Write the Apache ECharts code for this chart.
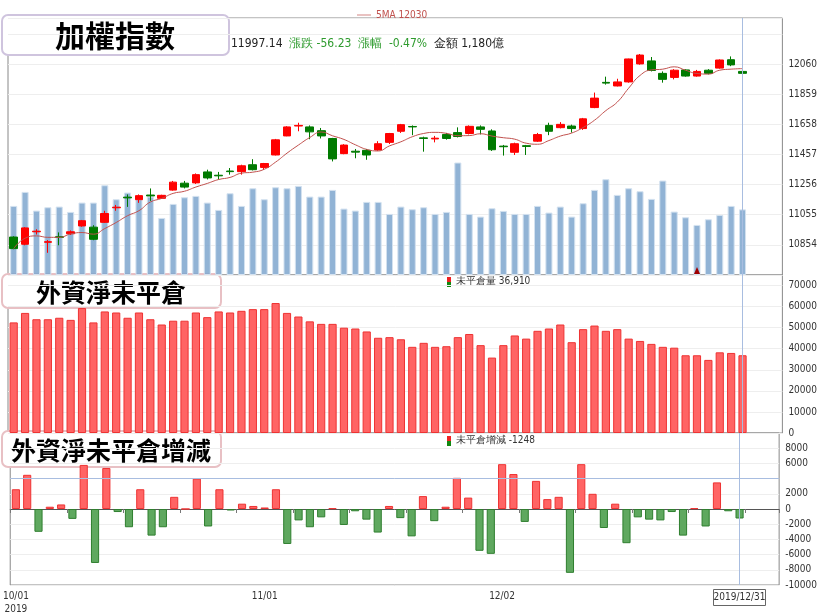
<!DOCTYPE html>
<html><head><meta charset="utf-8">
<script src="https://cdn.jsdelivr.net/npm/echarts@6/dist/echarts.min.js"></script>
<style>html,body{margin:0;padding:0;background:#fff}#c{width:820px;height:616px}</style>
</head><body><div id="c"></div>
<script>
const dates = [
 '2019/10/01','2019/10/02','2019/10/03','2019/10/04','2019/10/07','2019/10/08','2019/10/09','2019/10/11',
 '2019/10/14','2019/10/15','2019/10/16','2019/10/17','2019/10/18','2019/10/21','2019/10/22','2019/10/23','2019/10/24','2019/10/25',
 '2019/10/28','2019/10/29','2019/10/30','2019/10/31',
 '2019/11/01','2019/11/04','2019/11/05','2019/11/06','2019/11/07','2019/11/08','2019/11/11','2019/11/12','2019/11/13','2019/11/14','2019/11/15',
 '2019/11/18','2019/11/19','2019/11/20','2019/11/21','2019/11/22','2019/11/25','2019/11/26','2019/11/27','2019/11/28','2019/11/29',
 '2019/12/02','2019/12/03','2019/12/04','2019/12/05','2019/12/06','2019/12/09','2019/12/10','2019/12/11','2019/12/12','2019/12/13',
 '2019/12/16','2019/12/17','2019/12/18','2019/12/19','2019/12/20','2019/12/23','2019/12/24','2019/12/25','2019/12/26','2019/12/27',
 '2019/12/30','2019/12/31'];
// [open, close, low, high]
const ohlc = [
 [10906,10829,10825,10911],[10858,10967,10851,10972],[10941,10945,10923,10958],[10871,10875,10801,10886],
 [10908,10904,10851,10937],[10928,10941,10920,10950],[10980,11015,10975,11020],[10972,10891,10885,10985],
 [11004,11063,11000,11081],[11101,11105,11081,11120],[11172,11167,11107,11190],[11155,11182,11134,11190],
 [11186,11180,11147,11230],[11164,11184,11160,11188],[11219,11272,11215,11280],[11265,11239,11230,11280],
 [11267,11322,11260,11330],[11340,11300,11290,11355],[11318,11314,11289,11340],[11346,11342,11322,11366],
 [11342,11381,11322,11388],[11388,11355,11350,11425],[11370,11396,11353,11400],[11453,11554,11450,11560],
 [11580,11640,11578,11645],[11646,11650,11611,11668],[11640,11607,11558,11650],[11615,11580,11563,11633],
 [11563,11427,11410,11567],[11462,11519,11458,11525],[11478,11472,11431,11493],[11484,11453,11421,11493],
 [11486,11528,11480,11545],[11537,11596,11526,11600],[11611,11655,11600,11660],[11643,11640,11585,11650],
 [11567,11563,11475,11575],[11560,11565,11537,11580],[11590,11563,11555,11600],[11602,11576,11570,11637],
 [11596,11644,11590,11650],[11640,11624,11590,11650],[11613,11488,11480,11624],[11512,11508,11449,11520],
 [11471,11528,11453,11535],[11515,11510,11453,11520],[11545,11589,11540,11600],[11650,11611,11585,11668],
 [11635,11657,11630,11672],[11646,11629,11602,11655],[11629,11694,11620,11700],[11769,11832,11765,11869],
 [11937,11932,11922,11975],[11913,11940,11910,11961],[11940,12093,11935,12095],[12060,12119,12055,12125.9],
 [12080,12016,12010,12106],[11997,11957,11935,12010],[11970,12018,11957,12025],[12020,11979,11975,12025],
 [11979,12010,11975,12020],[12018,11997,11990,12025],[12032,12086,12028,12090],[12088,12053.37,12045,12110],
 [12010,11997.14,11990,12018]];
const volume = [1242,1494,1158,1218,1230,1134,1302,1302,1614,1362,1482,1362,1410,1026,1278,1398,1422,1302,1170,1470,
 1242,1560,1362,1578,1560,1602,1410,1410,1530,1194,1158,1314,1314,1098,1230,1182,1218,1098,1134,2022,
 1098,1050,1200,1152,1098,1098,1242,1122,1230,1050,1290,1530,1722,1440,1560,1506,1368,1698,1140,1038,
 900,1002,1080,1242,1180];
const oi = [52500,57000,54000,54000,54700,53700,59300,52500,57700,57200,54700,57200,54000,51500,53300,53300,57200,55000,57700,57200,
 58000,58800,58800,61700,57000,55300,53000,51800,51800,50000,49600,48200,45200,45500,44500,40900,42800,40900,41200,45500,
 47000,41700,35800,41700,46300,44800,48500,49600,51500,43100,49300,51000,48500,49300,44800,43700,42300,40900,40500,36900,
 36900,34700,38300,38000,36910];
const oiChange = [2600,4500,-3000,300,600,-1300,5800,-7100,5400,-400,-2400,2600,-3500,-2400,1600,0,4000,-2300,2600,-200,
 700,400,200,2600,-4600,-1500,-2400,-1100,100,-2100,-300,-1400,-3100,400,-1200,-3600,1700,-1600,300,4100,
 1500,-5500,-5900,5900,4600,-1700,3700,1300,1600,-8400,5900,2000,-2500,700,-4500,-1100,-1400,-1500,-400,-3500,
 100,-2300,3500,-300,-1248];
const indexTicks = [10854,11055,11256,11457,11658,11859,12060];

// 5-day moving average of the closes (partial window at the start)
const closes = ohlc.map(d => d[1]);
const ma5 = closes.map((c,i) => { const s = closes.slice(Math.max(0,i-4), i+1); return +(s.reduce((a,b)=>a+b,0)/s.length).toFixed(2); });

const FONT = '"DejaVu Sans Condensed", "Liberation Sans Narrow", sans-serif';
const chart = echarts.init(document.getElementById('c'));
const lastDate = dates[dates.length-1];
const crossLine = {silent:true, symbol:'none', label:{show:false}, lineStyle:{color:'#a8bde0', type:'solid', width:1}, data:[{xAxis:lastDate}]};
const yLab = {color:'#333', fontSize:10, fontFamily:FONT, margin:6, formatter:v => String(v)};
const gridBase = {left:8, right:33, show:true, borderColor:'#888', borderWidth:1, backgroundColor:'transparent'};
const slotMax = dates.length + 2;

chart.setOption({
  animation:false,
  legend:{top:5, left:352, data:['5MA'], icon:'path://M0,5 L20,5 L20,6 L0,6 Z', itemWidth:14, itemHeight:2,
    formatter: n => n + ' 12030', textStyle:{color:'#c0504d', fontSize:10, fontFamily:FONT}},
  grid:[
    Object.assign({top:18, height:257}, gridBase),
    Object.assign({top:275, height:158}, gridBase),
    Object.assign({top:433, height:155}, gridBase)
  ],
  xAxis:[0,1,2].map(i => ({type:'category', gridIndex:i, data:dates, boundaryGap:true, max:slotMax,
    axisLine:{show:i===2, lineStyle:{color:'#555'}},
    axisTick:{show:i===2, interval:(idx)=> idx % 5 === 0, length:4, lineStyle:{color:'#777'}},
    axisLabel:{show:i===2, interval:(idx,v)=> ['2019/10/01','2019/11/01','2019/12/02'].includes(v),
      formatter:v => v==='2019/10/01' ? '10/01\n2019' : v.slice(5), color:'#333', fontSize:10, fontFamily:FONT, lineHeight:13, margin:5},
    splitLine:{show:false}})),
  yAxis:[
    {type:'value', gridIndex:0, position:'right', min:10653, max:12366, interval:201,
      axisLabel:Object.assign({}, yLab, {formatter:v => indexTicks.includes(v) ? String(v) : ''}),
      axisLine:{show:false}, axisTick:{show:false}, splitLine:{lineStyle:{color:'#eee'}}},
    {type:'value', gridIndex:0, position:'right', min:0, max:4620, show:false, splitLine:{show:false}},
    {type:'value', gridIndex:1, position:'right', min:0, max:75000, interval:10000,
      axisLabel:Object.assign({showMaxLabel:false}, yLab), axisLine:{show:false}, axisTick:{show:false}, splitLine:{lineStyle:{color:'#eee'}}},
    {type:'value', gridIndex:2, position:'right', min:-10000, max:10000, interval:2000,
      axisLabel:Object.assign({}, yLab, {showMaxLabel:false, formatter:v => (v===4000 || v>=10000) ? '' : String(v)}), axisLine:{show:false}, axisTick:{show:false}, splitLine:{lineStyle:{color:'#eee'}}}
  ],
  series:[
    {name:'Volume', type:'bar', xAxisIndex:0, yAxisIndex:1, data:volume, barWidth:'62%', z:1,
      itemStyle:{color:'rgba(126,166,206,0.85)', borderColor:'#d4e2f0', borderWidth:1},
      markLine:crossLine},
    {name:'加權指數', type:'candlestick', xAxisIndex:0, yAxisIndex:0, data:ohlc, barWidth:'72%', z:3,
      itemStyle:{color:'#ff0000', color0:'#007a00', borderColor:'#ff0000', borderColor0:'#007a00', borderWidth:1},
      markPoint:{symbol:'none', data:[
        {coord:['2019/12/12',12125.9], value:'12125.9', label:{show:true, formatter:'12125.9', color:'#f5a0c0', fontSize:10, fontFamily:FONT, offset:[0,-4]}},
        {coord:['2019/10/07',10809.28], value:'10809.28', label:{show:true, formatter:'10809.28', color:'#a5cfa5', fontSize:10, fontFamily:FONT, offset:[-8,38]}}
      ]}},
    {name:'5MA', type:'line', xAxisIndex:0, yAxisIndex:0, data:ma5, showSymbol:false, smooth:true, z:4,
      lineStyle:{color:'#c0504d', width:1}, itemStyle:{color:'#c0504d'}},
    {name:'未平倉量', type:'bar', xAxisIndex:1, yAxisIndex:2, data:oi, barWidth:'72%',
      itemStyle:{color:'#ff6464', borderColor:'#ee3333', borderWidth:1}, markLine:crossLine},
    {name:'未平倉增減', type:'bar', xAxisIndex:2, yAxisIndex:3, barWidth:'72%',
      data:oiChange.map(v => ({value:v, itemStyle: v>=0 ? {color:'#ff6464', borderColor:'#ee3333'} : {color:'#5fa85f', borderColor:'#2f7f2f'}})),
      itemStyle:{borderWidth:1},
      markLine:{silent:true, symbol:'none', label:{show:false}, lineStyle:{color:'#a8bde0', type:'solid', width:1},
        data:[{xAxis:lastDate},{yAxis:4000}]}}
  ],
  graphic:[
    {type:'polygon', z:100, shape:{points:[[694,274],[700,274],[697,267]]}, style:{fill:'#a00000'}},
    {type:'text', left:231, top:38, style:{rich:{
      b:{fill:'#222', fontSize:12, fontFamily:FONT}, g:{fill:'#2e9b2e', fontSize:12, fontFamily:FONT}},
      text:'{b|11997.14}  {g|漲跌 -56.23}  {g|漲幅  -0.47%}  {b|金額 1,180億}'}},
    {type:'group', left:447, top:276, z:100, children:[
      {type:'rect', shape:{x:0,y:0,width:4,height:5}, style:{fill:'#ee2222'}},
      {type:'rect', shape:{x:0,y:5,width:4,height:5}, style:{fill:'#118811'}},
      {type:'text', x:9, y:-1, style:{text:'未平倉量 36,910', fill:'#333', fontSize:10, fontFamily:FONT}}]},
    {type:'group', left:447, top:435, z:100, children:[
      {type:'rect', shape:{x:0,y:1,width:4,height:5}, style:{fill:'#ee2222'}},
      {type:'rect', shape:{x:0,y:6,width:4,height:5}, style:{fill:'#118811'}},
      {type:'text', x:9, y:0, style:{text:'未平倉增減 -1248', fill:'#333', fontSize:10, fontFamily:FONT}}]},
    {type:'group', left:713, top:589, children:[
      {type:'rect', shape:{x:0,y:0,width:52,height:16}, style:{fill:'#fff', stroke:'#666', lineWidth:1}},
      {type:'text', x:26, y:8, style:{text:'2019/12/31', fill:'#333', fontSize:10, fontFamily:FONT, align:'center', verticalAlign:'middle'}}]},
    {type:'group', left:1, top:14, z:100, children:[
      {type:'rect', shape:{x:0,y:0,width:227,height:40,r:6}, style:{fill:'#fff', stroke:'#cfc4de', lineWidth:2}},
      {type:'text', x:113, y:21, style:{text:'加權指數', fill:'#000', font:'bold 30px "Noto Sans CJK TC", serif', align:'center', verticalAlign:'middle'}}]},
    {type:'group', left:1, top:273, z:100, children:[
      {type:'rect', shape:{x:0,y:0,width:219,height:34,r:6}, style:{fill:'#fff', stroke:'#e8c0c4', lineWidth:2}},
      {type:'text', x:109, y:18, style:{text:'外資淨未平倉', fill:'#000', font:'bold 25px "Noto Sans CJK TC", serif', align:'center', verticalAlign:'middle'}}]},
    {type:'group', left:1, top:430, z:100, children:[
      {type:'rect', shape:{x:0,y:0,width:219,height:36,r:6}, style:{fill:'#fff', stroke:'#e8c0c4', lineWidth:2}},
      {type:'text', x:109, y:19, style:{text:'外資淨未平倉增減', fill:'#000', font:'bold 25px "Noto Sans CJK TC", serif', align:'center', verticalAlign:'middle'}}]}
  ]
});
</script></body></html>
